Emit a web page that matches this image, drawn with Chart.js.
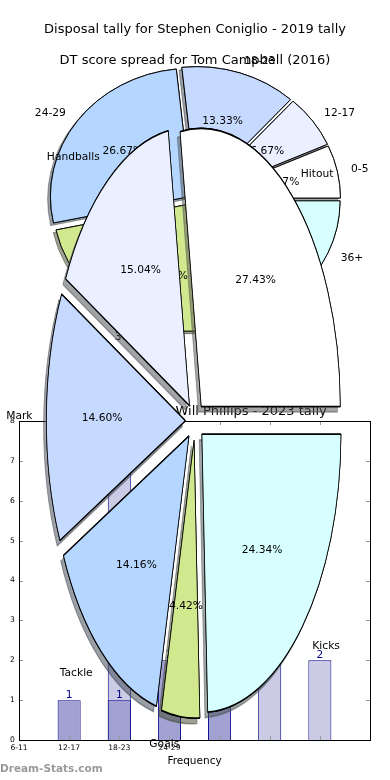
<!DOCTYPE html>
<html>
<head>
<meta charset="utf-8">
<script src="https://cdn.jsdelivr.net/npm/chart.js@4/dist/chart.umd.min.js"></script>
<style>
  body { margin: 0; background: #fff; }
  #wrap { position: relative; width: 390px; height: 780px; overflow: hidden; }
  #wrap canvas { position: absolute; left: 0; top: 0; }
  #watermark {
    position: absolute; left: 0; top: 762px;
    font: bold 10.5px "DejaVu Sans", sans-serif; color: #9a9a9a;
  }
</style>
</head>
<body>
<div id="wrap">
  <canvas id="barChart" width="390" height="780"></canvas>
  <canvas id="dtPie" width="390" height="780"></canvas>
  <canvas id="disposalPie" width="390" height="860"></canvas>
  <div id="watermark">Dream-Stats.com</div>
</div>
<script>
// Will Phillips - 2023 tally (bars)
const binLabels = ["6-11", "12-17", "18-23", "24-29", "", "", "", ""];
const darkBars = [0, 1, 1, 2, 1, 0, 0, 0];
const lightBars = [0, 0, 7, 0, 0, 3, 2, 0];

// DT score spread for Tom Campbell (2016)
const dtRanges = ["0-5", "12-17", "18-23", "24-29", "30-35", "36+"];
const dtGames = [1, 1, 2, 4, 5, 2];

// Disposal tally for Stephen Coniglio - 2019
const statNames = ["Hitout", "Handballs", "Mark", "Tackle", "Goals", "Kicks"];
const statCounts = [62, 34, 33, 32, 10, 55];

const sliceColours = ["#ffffff", "#eaf0ff", "#c6d9ff", "#b4d6ff", "#d0e98f", "#d8ffff"];

Chart.defaults.font.family = '"DejaVu Sans", sans-serif';
Chart.defaults.color = "#000";
Chart.defaults.animation = false;
Chart.defaults.plugins.legend.display = false;
Chart.defaults.plugins.tooltip.enabled = false;

const FONT = '"DejaVu Sans", sans-serif';

// matplotlib style shadow: 30% of the face colour at half alpha
function shade(hex) {
  const n = parseInt(hex.slice(1), 16);
  const r = (n >> 16) & 255, g = (n >> 8) & 255, b = n & 255;
  return `rgba(${Math.round(r * 0.3)},${Math.round(g * 0.3)},${Math.round(b * 0.3)},0.5)`;
}

// exploded, squashed pie with shadows + labels
const pieLook = {
  id: "pieLook",
  beforeDatasetsDraw(chart, args, opts) {
    const ctx = chart.ctx;
    const arcs = chart.getDatasetMeta(0).data;
    const cx = arcs[0].x, cy = arcs[0].y;
    ctx.save();
    ctx.translate(cx, cy);
    ctx.scale(1, opts.squash);
    ctx.translate(-cx, -cy);
    ["shadow", "face"].forEach((pass) => {
      arcs.forEach((arc) => {
        const mid = (arc.startAngle + arc.endAngle) / 2;
        ctx.save();
        if (pass === "shadow") {
          ctx.shadowColor = shade(arc.options.backgroundColor);
          ctx.shadowOffsetX = opts.shadow[0];
          ctx.shadowOffsetY = opts.shadow[1];
          ctx.shadowBlur = 0;
        }
        ctx.translate(Math.cos(mid) * opts.explode, Math.sin(mid) * opts.explode);
        arc.draw(ctx);
        ctx.restore();
      });
    });
    ctx.restore();
    return false;
  },
  afterDraw(chart, args, opts) {
    const ctx = chart.ctx;
    const arcs = chart.getDatasetMeta(0).data;
    const values = chart.data.datasets[0].data;
    const total = values.reduce((a, b) => a + b, 0);
    ctx.save();
    ctx.font = `10.7px ${FONT}`;
    ctx.fillStyle = "#000";
    ctx.textBaseline = "middle";
    arcs.forEach((arc, i) => {
      const mid = (arc.startAngle + arc.endAngle) / 2;
      const c = Math.cos(mid), s = Math.sin(mid);
      const ox = arc.x + c * opts.explode;
      const oy = arc.y + s * opts.explode * opts.squash;
      const r = arc.outerRadius;
      ctx.textAlign = c >= 0 ? "left" : "right";
      ctx.fillText(chart.data.labels[i], ox + c * r * 1.1, oy + s * r * 1.1 * opts.squash);
      ctx.textAlign = "center";
      const pct = (100 * values[i] / total).toFixed(2) + "%";
      ctx.fillText(pct, ox + c * r * 0.6, oy + s * r * 0.6 * opts.squash);
    });
    ctx.restore();
  }
};

// frame, inward ticks and bar value labels
const barLook = {
  id: "barLook",
  afterDatasetsDraw(chart) {
    const ctx = chart.ctx;
    ctx.save();
    ctx.font = `10.7px ${FONT}`;
    ctx.fillStyle = "#000080";
    ctx.textAlign = "center";
    ctx.textBaseline = "bottom";
    chart.data.datasets.forEach((ds, d) => {
      chart.getDatasetMeta(d).data.forEach((bar, i) => {
        if (ds.data[i] > 0) ctx.fillText(ds.data[i], bar.x, bar.y);
      });
    });
    ctx.restore();
  },
  afterDraw(chart) {
    const ctx = chart.ctx;
    const a = chart.chartArea;
    const x = chart.scales.x, y = chart.scales.y;
    ctx.save();
    ctx.strokeStyle = "#999";
    ctx.lineWidth = 1;
    ctx.beginPath();
    x.ticks.forEach((t, i) => {
      const px = Math.round(x.getPixelForTick(i)) + 0.5;
      ctx.moveTo(px, a.top); ctx.lineTo(px, a.top + 4);
      ctx.moveTo(px, a.bottom); ctx.lineTo(px, a.bottom - 4);
    });
    y.ticks.forEach((t, i) => {
      const py = Math.round(y.getPixelForTick(i)) + 0.5;
      ctx.moveTo(a.left, py); ctx.lineTo(a.left + 4, py);
      ctx.moveTo(a.right, py); ctx.lineTo(a.right - 4, py);
    });
    ctx.stroke();
    ctx.strokeStyle = "#000";
    ctx.strokeRect(Math.round(a.left) + 0.5, Math.round(a.top) + 0.5,
      Math.round(a.right - a.left), Math.round(a.bottom - a.top));
    ctx.restore();
  }
};

new Chart(document.getElementById("barChart"), {
  type: "bar",
  data: {
    labels: binLabels,
    datasets: [
      {
        data: darkBars,
        backgroundColor: "#a2a2d2",
        borderColor: "#00008b",
        borderWidth: 1,
        grouped: false,
        barPercentage: 0.46,
        categoryPercentage: 1,
      },
      {
        data: lightBars,
        backgroundColor: "#cbcbe6",
        borderColor: "#00008b",
        borderWidth: 1,
        grouped: false,
        barPercentage: 0.46,
        categoryPercentage: 1,
      },
    ],
  },
  options: {
    responsive: false,
    devicePixelRatio: 1,
    layout: { padding: { top: 403.4, left: 19, right: 20, bottom: 0 } },
    plugins: {
      title: {
        display: true,
        text: "Disposal tally for Will Phillips - 2023 tally",
        font: { size: 13, weight: "normal" },
        color: "#000",
        padding: { top: 0, bottom: 2 },
      },
    },
    scales: {
      x: {
        offset: false,
        grid: { display: false, drawTicks: false },
        border: { display: false },
        ticks: { autoSkip: false, maxRotation: 0, font: { size: 7.6 }, padding: 3, color: "#000" },
        title: { display: true, text: "Frequency", font: { size: 10.5 }, padding: { top: 0, bottom: 12 } },
        afterFit(scale) { scale.height = 40; },
      },
      y: {
        min: 0,
        max: 8,
        grid: { display: false, drawTicks: false },
        border: { display: false },
        // zero-width axis: mirrored labels pulled back to the left of the frame
        ticks: { stepSize: 1, font: { size: 7.6 }, mirror: true, crossAlign: "far", padding: -9, color: "#000" },
        afterFit(scale) { scale.width = 0; },
      },
    },
  },
  plugins: [barLook],
});

// Chart.js runs clockwise from 3 o'clock, matplotlib counter-clockwise: reverse
new Chart(document.getElementById("dtPie"), {
  type: "pie",
  data: {
    labels: dtRanges.slice().reverse(),
    datasets: [{
      data: dtGames.slice().reverse(),
      backgroundColor: sliceColours.slice().reverse(),
      borderColor: "#000",
      borderWidth: 1,
      offset: 0,
      hoverOffset: 0,
      clip: false,
    }],
  },
  options: {
    responsive: false,
    devicePixelRatio: 1,
    rotation: 90,
    radius: 140.5,
    layout: { padding: { top: 0, left: 0, right: 0, bottom: 450.8 } },
    plugins: {
      title: {
        display: true,
        text: "DT score spread for Tom Campbell (2016)",
        font: { size: 13, weight: "normal" },
        color: "#000",
        padding: { top: 53.2, bottom: 0 },
      },
      pieLook: { squash: 0.911, explode: 5, shadow: [-2.8, 2.6] },
    },
  },
  plugins: [pieLook],
});

new Chart(document.getElementById("disposalPie"), {
  type: "pie",
  data: {
    labels: statNames.slice().reverse(),
    datasets: [{
      data: statCounts.slice().reverse(),
      backgroundColor: sliceColours.slice().reverse(),
      borderColor: "#000",
      borderWidth: 0.8,
      offset: 0,
      hoverOffset: 0,
      clip: false,
    }],
  },
  options: {
    responsive: false,
    devicePixelRatio: 1,
    rotation: 90,
    radius: 139,
    layout: { padding: { top: 0, left: 0, right: 0, bottom: 55.8 } },
    plugins: {
      title: {
        display: true,
        text: "Disposal tally for Stephen Coniglio - 2019 tally",
        font: { size: 13, weight: "normal" },
        color: "#000",
        padding: { top: 22.2, bottom: 0 },
      },
      pieLook: { squash: 2, explode: 9.6, shadow: [-2.8, 5.6] },
    },
  },
  plugins: [pieLook],
});
</script>
</body>
</html>
